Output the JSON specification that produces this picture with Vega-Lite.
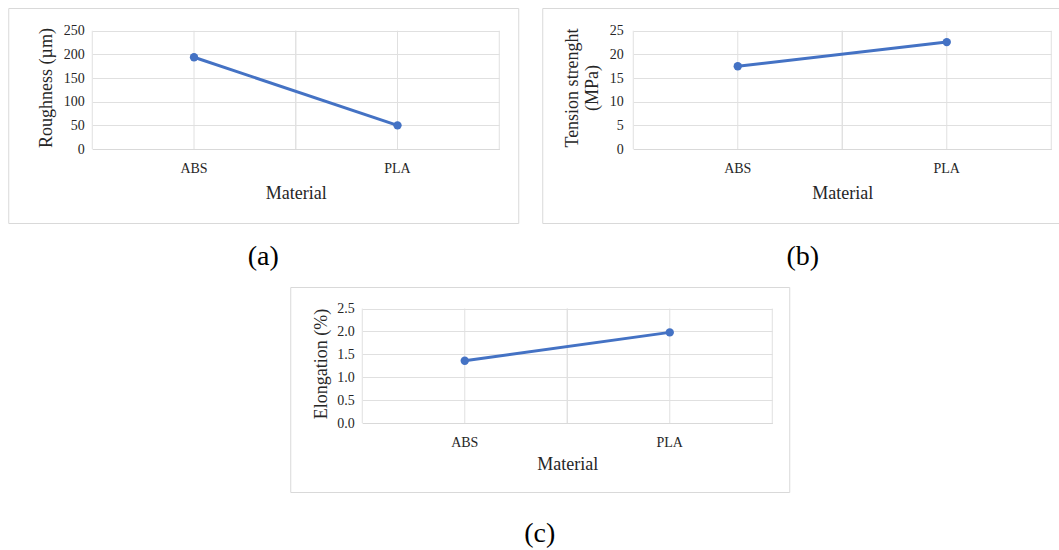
{
  "$schema": "https://vega.github.io/schema/vega-lite/v6.json",
  "padding": {"left": 7, "top": 7, "right": 0, "bottom": 0},
  "background": "white",
  "spacing": 14,
  "center": true,
  "vconcat": [
    {
      "hconcat": [
        {
          "width": 510,
          "height": 215,
          "data": {"values": [{"Material": "ABS", "Roughness": 194}, {"Material": "PLA", "Roughness": 50}]},
          "title": {"text": "(a)", "orient": "bottom", "offset": 20},
          "resolve": {"axis": {"x": "independent", "y": "independent"}},
          "encoding": {
            "x": {"field": "Material", "type": "nominal", "sort": ["ABS", "PLA"], "axis": null,
              "scale": {"range": [84, 491], "paddingInner": 0, "paddingOuter": 0}}
          },
          "layer": [
            {"mark": {"type": "rule", "color": "#e0e0e0", "strokeWidth": 1},
             "encoding": {"y": {"datum": 0, "type": "quantitative", "axis": null}, "y2": {"datum": 250}}},
            {"mark": {"type": "rule", "color": "#e0e0e0", "strokeWidth": 1},
             "encoding": {"x": {"field": "Material", "type": "nominal", "bandPosition": 0, "axis": null}, "y": {"datum": 0, "type": "quantitative", "axis": null}, "y2": {"datum": 250}}},
            {"mark": {"type": "rule", "color": "#e0e0e0", "strokeWidth": 1},
             "encoding": {"x": {"field": "Material", "type": "nominal", "bandPosition": 1, "axis": null}, "y": {"datum": 0, "type": "quantitative", "axis": null}, "y2": {"datum": 250}}},
            {"mark": {"type": "point", "opacity": 0},
             "encoding": {
               "y": {"field": "Roughness", "type": "quantitative", "axis": {"orient": "left", "offset": 0, "grid": true, "labels": false, "title": null, "values": [0, 50, 100, 150, 200, 250]}}}},
            {"mark": {"type": "line", "color": "#4472C4", "strokeWidth": 3},
             "encoding": {
               "x": {"field": "Material", "type": "nominal", "axis": {"orient": "bottom", "title": "Material", "offset": -74, "labelAngle": 0, "grid": false, "domain": true, "domainColor": "#d9d9d9", "labelPadding": 12, "titlePadding": 9}},
               "y": {"field": "Roughness", "type": "quantitative", "scale": {"domain": [0, 250], "range": [141, 18]},
               "axis": {"orient": "left", "title": "Roughness (µm)", "offset": -84, "grid": false, "values": [0, 50, 100, 150, 200, 250], "labelPadding": 8, "titlePadding": 8}}}},
            {"mark": {"type": "point", "filled": true, "opacity": 1, "color": "#4472C4", "size": 70},
             "encoding": {"y": {"field": "Roughness", "type": "quantitative", "axis": null}}}
          ]
        },
        {
          "width": 529,
          "height": 215,
          "data": {"values": [{"Material": "ABS", "Tension": 17.5}, {"Material": "PLA", "Tension": 22.6}]},
          "title": {"text": "(b)", "orient": "bottom", "offset": 20, "dx": -4},
          "resolve": {"axis": {"x": "independent", "y": "independent"}},
          "encoding": {
            "x": {"field": "Material", "type": "nominal", "sort": ["ABS", "PLA"], "axis": null,
              "scale": {"range": [91, 509], "paddingInner": 0, "paddingOuter": 0}}
          },
          "layer": [
            {"mark": {"type": "rule", "color": "#e0e0e0", "strokeWidth": 1},
             "encoding": {"y": {"datum": 0, "type": "quantitative", "axis": null}, "y2": {"datum": 25}}},
            {"mark": {"type": "rule", "color": "#e0e0e0", "strokeWidth": 1},
             "encoding": {"x": {"field": "Material", "type": "nominal", "bandPosition": 0, "axis": null}, "y": {"datum": 0, "type": "quantitative", "axis": null}, "y2": {"datum": 25}}},
            {"mark": {"type": "rule", "color": "#e0e0e0", "strokeWidth": 1},
             "encoding": {"x": {"field": "Material", "type": "nominal", "bandPosition": 1, "axis": null}, "y": {"datum": 0, "type": "quantitative", "axis": null}, "y2": {"datum": 25}}},
            {"mark": {"type": "point", "opacity": 0},
             "encoding": {
               "y": {"field": "Tension", "type": "quantitative", "axis": {"orient": "left", "offset": 0, "grid": true, "labels": false, "title": null, "values": [0, 5, 10, 15, 20, 25]}}}},
            {"mark": {"type": "line", "color": "#4472C4", "strokeWidth": 3},
             "encoding": {
               "x": {"field": "Material", "type": "nominal", "axis": {"orient": "bottom", "title": "Material", "offset": -74, "labelAngle": 0, "grid": false, "domain": true, "domainColor": "#d9d9d9", "labelPadding": 12, "titlePadding": 9}},
               "y": {"field": "Tension", "type": "quantitative", "scale": {"domain": [0, 25], "range": [141, 18]},
               "axis": {"orient": "left", "title": ["Tension strenght", "(MPa)"], "offset": -91, "grid": false, "values": [0, 5, 10, 15, 20, 25], "labelPadding": 10, "titlePadding": 8}}}},
            {"mark": {"type": "point", "filled": true, "opacity": 1, "color": "#4472C4", "size": 70},
             "encoding": {"y": {"field": "Tension", "type": "quantitative", "axis": null}}}
          ]
        }
      ],
      "spacing": 22
    },
    {
      "width": 499,
      "height": 205,
      "data": {"values": [{"Material": "ABS", "Elongation": 1.36}, {"Material": "PLA", "Elongation": 1.98}]},
      "title": {"text": "(c)", "orient": "bottom", "offset": 28},
      "resolve": {"axis": {"x": "independent", "y": "independent"}},
      "encoding": {
        "x": {"field": "Material", "type": "nominal", "sort": ["ABS", "PLA"], "axis": null,
          "scale": {"range": [72, 482], "paddingInner": 0, "paddingOuter": 0}}
      },
      "layer": [
        {"mark": {"type": "rule", "color": "#e0e0e0", "strokeWidth": 1},
         "encoding": {"y": {"datum": 0, "type": "quantitative", "axis": null}, "y2": {"datum": 2.5}}},
        {"mark": {"type": "rule", "color": "#e0e0e0", "strokeWidth": 1},
         "encoding": {"x": {"field": "Material", "type": "nominal", "bandPosition": 0, "axis": null}, "y": {"datum": 0, "type": "quantitative", "axis": null}, "y2": {"datum": 2.5}}},
        {"mark": {"type": "rule", "color": "#e0e0e0", "strokeWidth": 1},
         "encoding": {"x": {"field": "Material", "type": "nominal", "bandPosition": 1, "axis": null}, "y": {"datum": 0, "type": "quantitative", "axis": null}, "y2": {"datum": 2.5}}},
        {"mark": {"type": "point", "opacity": 0},
         "encoding": {
           "y": {"field": "Elongation", "type": "quantitative", "axis": {"orient": "left", "offset": 0, "grid": true, "labels": false, "title": null, "values": [0, 0.5, 1, 1.5, 2, 2.5]}}}},
        {"mark": {"type": "line", "color": "#4472C4", "strokeWidth": 3},
         "encoding": {
           "x": {"field": "Material", "type": "nominal", "axis": {"orient": "bottom", "title": "Material", "offset": -69, "labelAngle": 0, "grid": false, "domain": true, "domainColor": "#d9d9d9", "labelPadding": 12, "titlePadding": 6}},
           "y": {"field": "Elongation", "type": "quantitative", "scale": {"domain": [0, 2.5], "range": [136, 17]},
           "axis": {"orient": "left", "title": "Elongation (%)", "offset": -72, "grid": false, "values": [0, 0.5, 1, 1.5, 2, 2.5], "format": ".1f", "labelPadding": 8, "titlePadding": 6}}}},
        {"mark": {"type": "point", "filled": true, "opacity": 1, "color": "#4472C4", "size": 70},
         "encoding": {"y": {"field": "Elongation", "type": "quantitative", "axis": null}}}
      ]
    }
  ],
  "config": {
    "font": "Liberation Serif",
    "view": {"stroke": "#d9d9d9", "strokeWidth": 1},
    "axis": {
      "labelFont": "Liberation Serif", "titleFont": "Liberation Serif",
      "labelFontSize": 14, "titleFontSize": 18, "titleFontWeight": "normal",
      "labelColor": "#262626", "titleColor": "#262626",
      "gridColor": "#e0e0e0", "ticks": false, "domain": false
    },
    "title": {"font": "Liberation Serif", "fontSize": 28, "fontWeight": "normal", "color": "#000000"}
  }
}
